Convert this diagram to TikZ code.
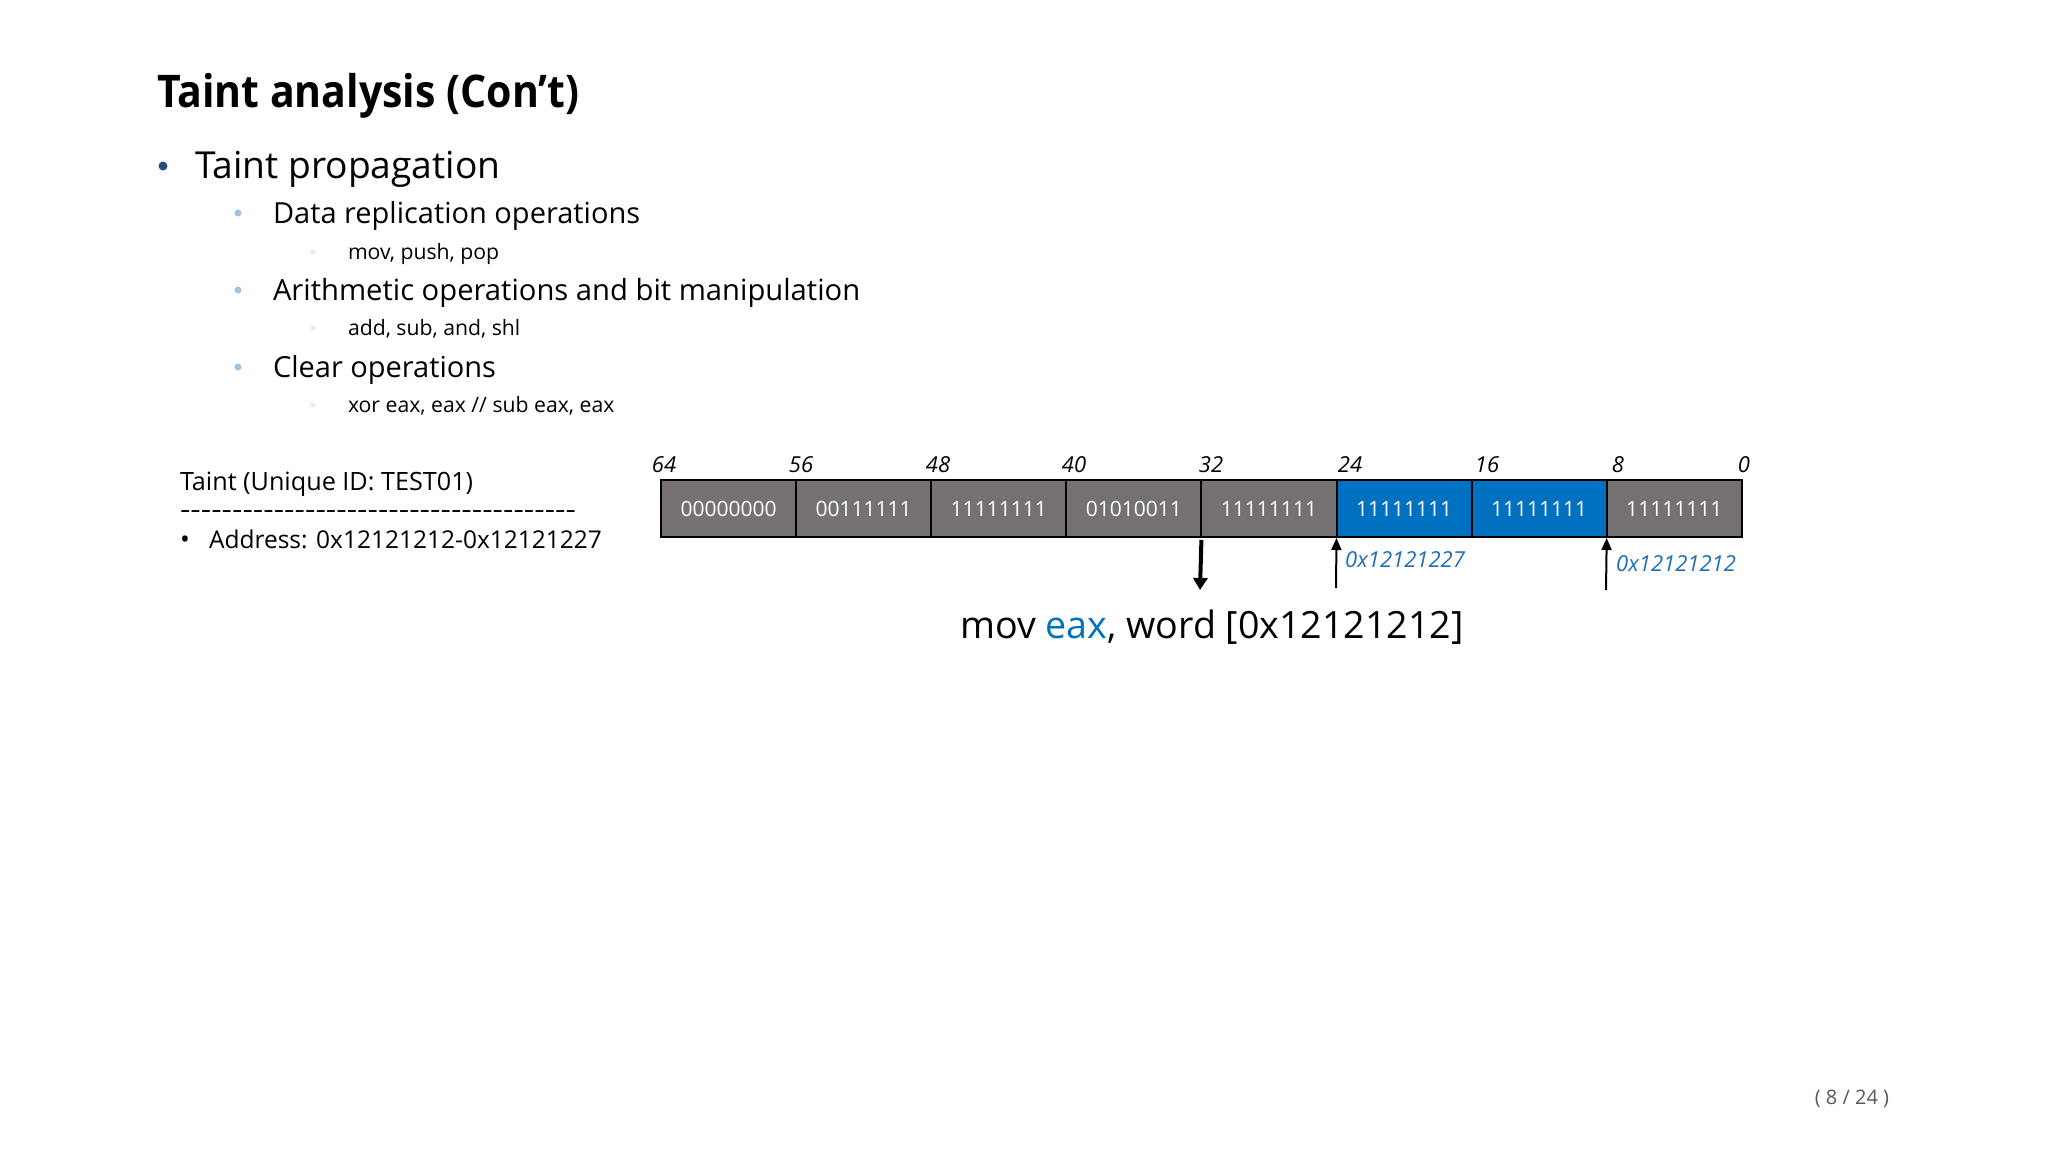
\documentclass[tikz,border=0pt]{standalone}
\usepackage{fontspec}
\usepackage{graphicx}
\newfontfamily\osans{Open Sans}
\usetikzlibrary{arrows.meta}
\definecolor{cellgray}{HTML}{767171}
\definecolor{cellblue}{HTML}{0070C0}
\definecolor{bulletdark}{HTML}{2B4C7E}
\definecolor{bulletlight}{HTML}{9DC3E6}
\definecolor{bulletfaint}{HTML}{E2ECF6}
\definecolor{addrblue}{HTML}{1F6FB8}
\definecolor{pagegray}{HTML}{595959}
\begin{document}
\begin{tikzpicture}[x=1pt,y=-1pt,
  txt/.style={anchor=base west, inner sep=0pt, outer sep=0pt},
  fs/.style={font=\osans\fontsize{#1}{#1}\selectfont},
  cell/.style={draw=black, line width=2pt, minimum width=135.1pt, minimum height=57pt,
    inner sep=0pt, outer sep=0pt, text=white, fs=21},
  bitlabel/.style={anchor=base, inner sep=0pt, font=\osans\itshape\fontsize{22}{22}\selectfont},
  addrlabel/.style={anchor=west, inner sep=0pt, text=addrblue, font=\osans\itshape\fontsize{22}{22}\selectfont},
  uparrow/.style={line width=2pt, -{Triangle[width=10pt,length=12pt]}},
  downarrow/.style={line width=4pt, -{Triangle[width=14pt,length=12pt]}}
]
\useasboundingbox[fill=white] (0,0) rectangle (2048,1152);

% title
\node[txt, font=\osans\bfseries\fontsize{45}{45}\selectfont] (title) at (157,107) {\scalebox{0.912}[1]{Taint analysis (Con’t)}};

% bullets
\fill[bulletdark] (163,166) circle (4.5);
\node[txt, fs=37.2] (l1) at (195,178) {Taint propagation};

\fill[bulletlight] (238,213) circle (3.5);
\node[txt, fs=29] (l2a) at (273,223) {Data replication operations};
\fill[bulletfaint] (313,252) circle (2.5);
\node[txt, fs=21.2] (l3a) at (348,259) {mov, push, pop};

\fill[bulletlight] (238,290) circle (3.5);
\node[txt, fs=29.2] (l2b) at (273,300) {Arithmetic operations and bit manipulation};
\fill[bulletfaint] (313,328) circle (2.5);
\node[txt, fs=21.2] (l3b) at (348,335) {add, sub, and, shl};

\fill[bulletlight] (238,367) circle (3.5);
\node[txt, fs=29] (l2c) at (273,377) {Clear operations};
\fill[bulletfaint] (313,405) circle (2.5);
\node[txt, fs=21.2] (l3c) at (348,412) {xor eax, eax // sub eax, eax};

% taint info
\node[txt, fs=25.2] (tid) at (180,490) {Taint (Unique ID: TEST01)};
\node[txt, fs=26] (dash) at (180,518) {\scalebox{1.245}[1]{--------------------------------------}};
\node[txt, fs=26] (abul) at (180,548) {•};
\node[txt, fs=24.5] (addr) at (209,548) {Address: 0x12121212-0x12121227};

% memory cells
\node[cell, fill=cellgray] (c1) at (728.55,508.5) {00000000};
\node[cell, fill=cellgray] (c2) at (863.65,508.5) {00111111};
\node[cell, fill=cellgray] (c3) at (998.75,508.5) {11111111};
\node[cell, fill=cellgray] (c4) at (1133.85,508.5) {01010011};
\node[cell, fill=cellgray] (c5) at (1268.95,508.5) {11111111};
\node[cell, fill=cellblue] (c6) at (1404.05,508.5) {11111111};
\node[cell, fill=cellblue] (c7) at (1539.15,508.5) {11111111};
\node[cell, fill=cellgray] (c8) at (1674.25,508.5) {11111111};

% bit labels
\node[bitlabel] (b64) at (664,472) {64};
\node[bitlabel] (b56) at (801,472) {56};
\node[bitlabel] (b48) at (938,472) {48};
\node[bitlabel] (b40) at (1074,472) {40};
\node[bitlabel] (b32) at (1211,472) {32};
\node[bitlabel] (b24) at (1350,472) {24};
\node[bitlabel] (b16) at (1487,472) {16};
\node[bitlabel] (b8) at (1618,472) {8};
\node[bitlabel] (b0) at (1744,472) {0};

% arrows
\coordinate (u24) at (1336,588);
\coordinate (u8) at (1606,590);
\draw[uparrow] (u24) -- ([yshift=-1pt]c6.south west);
\draw[uparrow] (u8) -- ([yshift=-1pt]c8.south west);
\node[addrlabel] (a27) at (1345,560) {0x12121227};
\node[addrlabel] (a12) at (1616,564) {0x12121212};

\coordinate (d32) at (1200,590);
\draw[downarrow] ([yshift=-3pt]c5.south west) -- (d32);

\node[inner sep=0pt, fs=37.6] (instr) at (1212,627) {mov \textcolor{cellblue}{eax}, word [0x12121212]};

\node[inner sep=0pt, fs=20, text=pagegray] (page) at (1852,1099) {( 8 / 24 )};
\end{tikzpicture}
\end{document}
